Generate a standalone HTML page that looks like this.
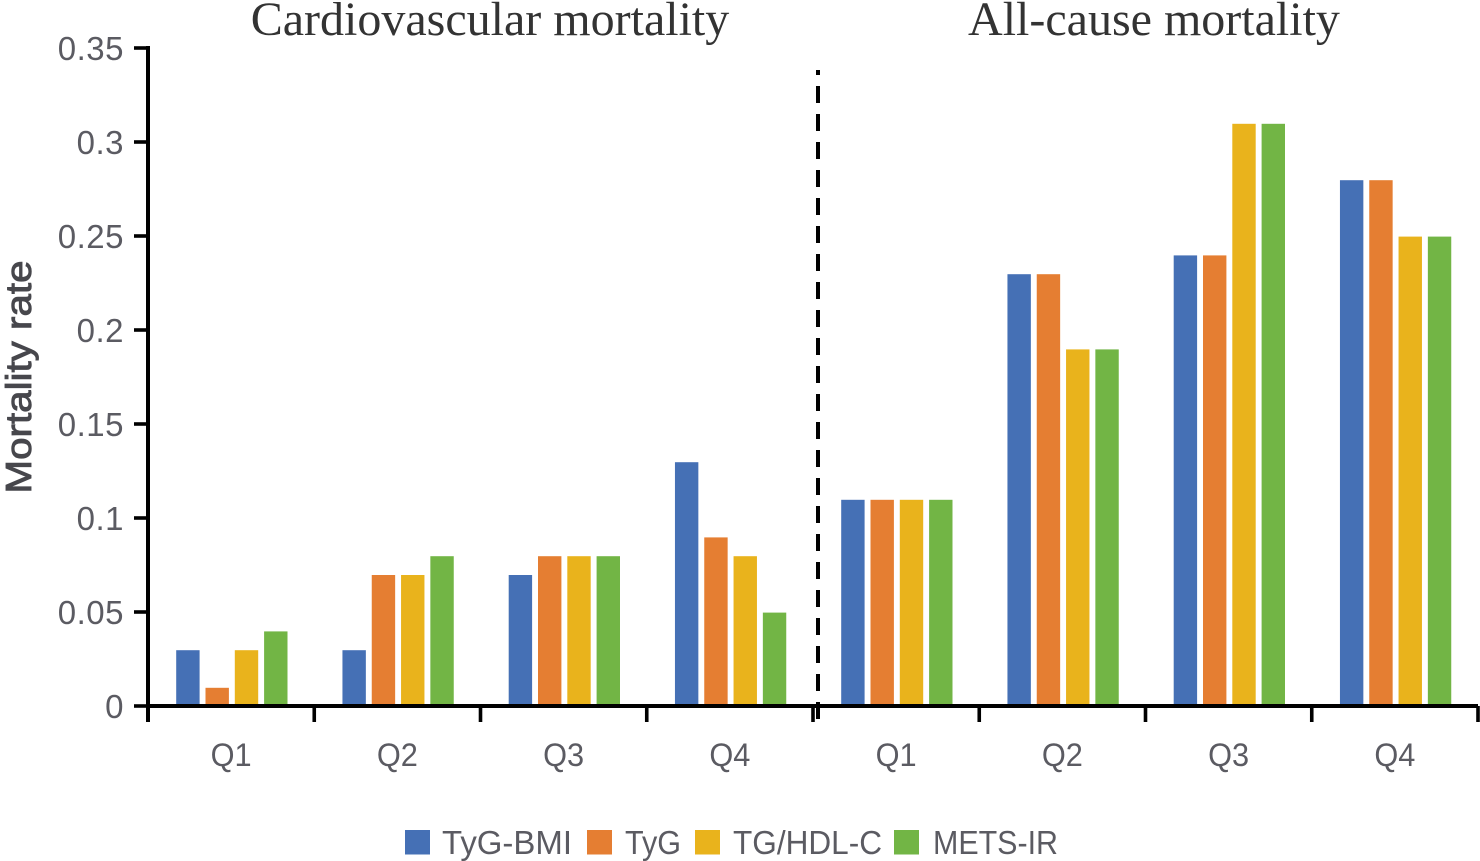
<!DOCTYPE html>
<html>
<head>
<meta charset="utf-8">
<style>
html,body{margin:0;padding:0;background:#fff;}
svg{display:block;}
text{font-family:"Liberation Sans","Noto Sans CJK SC",sans-serif;fill:#5b5b62;}
</style>
</head>
<body>
<svg id="chart" width="1480" height="861" viewBox="0 0 1480 861" xmlns="http://www.w3.org/2000/svg"></svg>
<script>
const groups = ["Q1","Q2","Q3","Q4","Q1","Q2","Q3","Q4"];
const seriesNames = ["TyG-BMI","TyG","TG/HDL-C","METS-IR"];
const tygBmi = [0.03,0.03,0.07,0.13,0.11,0.23,0.24,0.28];
const tyg = [0.01,0.07,0.08,0.09,0.11,0.23,0.24,0.28];
const tgHdl = [0.03,0.07,0.08,0.08,0.11,0.19,0.31,0.25];
const metsIr = [0.04,0.08,0.08,0.05,0.11,0.19,0.31,0.25];
const yTicks = [0,0.05,0.1,0.15,0.2,0.25,0.3,0.35];
const yTickLabels = ["0","0.05","0.1","0.15","0.2","0.25","0.3","0.35"];
const colors = ["#4570b5","#e57e32","#e9b31c","#72b545"];

const svg = document.getElementById('chart');
const NS = 'http://www.w3.org/2000/svg';
const x0 = 148, x1 = 1478, y0 = 706, yTop = 48;
const yMax = 0.35;
const yScale = v => y0 - (v / yMax) * (y0 - yTop);
const bandW = (x1 - x0) / groups.length;
const xBand = i => x0 + i * bandW;
function mk(tag, attrs, txt){
  const e = document.createElementNS(NS, tag);
  for (const k in attrs) e.setAttribute(k, attrs[k]);
  if (txt !== undefined) e.textContent = txt;
  svg.appendChild(e);
  return e;
}
const allSeries = [tygBmi, tyg, tgHdl, metsIr];
const barW = 23.4, step = 29.3;
allSeries.forEach((vals, s) => {
  vals.forEach((v, i) => {
    const bx = xBand(i) + 28.2 + s * step;
    const top = yScale(v) + 0.6;
    const r = mk('rect', {x: bx, y: top, width: barW, height: y0 - top, fill: colors[s]});
    
    
  });
});
const yAxis = mk('line', {x1: x0, y1: yTop - 2, x2: x0, y2: y0 + 16, stroke: '#000', 'stroke-width': 4});


const xAxis = mk('line', {x1: x0, y1: y0, x2: x1, y2: y0, stroke: '#000', 'stroke-width': 4});


yTicks.forEach((t, i) => {
  const tick = mk('line', {x1: x0 - 14, y1: yScale(t), x2: x0, y2: yScale(t), stroke: '#000', 'stroke-width': 3.6});
  
  
  const lab = mk('text', {x: x0 - 24, y: yScale(t) + 12, 'text-anchor': 'end', 'font-size': 33, 'letter-spacing': 0.5}, yTickLabels[i]);
  
  
});
groups.forEach((g, i) => {
  const tick = mk('line', {x1: xBand(i + 1), y1: y0, x2: xBand(i + 1), y2: y0 + 16, stroke: '#000', 'stroke-width': 3.6});
  
  
  const lab = mk('text', {x: xBand(i) + bandW / 2, y: 766, 'text-anchor': 'middle', 'font-size': 32, textLength: 41, lengthAdjust: 'spacingAndGlyphs'}, g);
  
  
});
const divider = mk('line', {x1: 818, y1: 70, x2: 818, y2: 720, stroke: '#000', 'stroke-width': 4, 'stroke-dasharray': '17 11', 'stroke-dashoffset': 12});


const t1 = mk('text', {x: 490, y: 35, 'text-anchor': 'middle', 'font-size': 48, style: 'font-family:"Liberation Serif",serif;fill:#333'}, 'Cardiovascular mortality');


const t2 = mk('text', {x: 1154, y: 35, 'text-anchor': 'middle', 'font-size': 48, style: 'font-family:"Liberation Serif",serif;fill:#333'}, 'All-cause mortality');


const yTitle = mk('text', {x: 0, y: 0, transform: 'translate(31,377) rotate(-90)', 'text-anchor': 'middle', 'font-size': 36, textLength: 233, lengthAdjust: 'spacingAndGlyphs', stroke: '#47474c', 'stroke-width': 0.9, style: 'fill:#47474c'}, 'Mortality rate');


const legendSwatchX = [405, 587, 695, 894];
const legendTextX = [442, 625, 733, 933];
const legendTextWidth = [130, 56, 149, 125];
seriesNames.forEach((n, s) => {
  const sw = mk('rect', {x: legendSwatchX[s], y: 830, width: 25, height: 24.5, fill: colors[s]});
  
  
  const lt = mk('text', {x: legendTextX[s], y: 854, 'font-size': 33.5, textLength: legendTextWidth[s], lengthAdjust: 'spacingAndGlyphs'}, n);
  
  
});
</script>
</body>
</html>
